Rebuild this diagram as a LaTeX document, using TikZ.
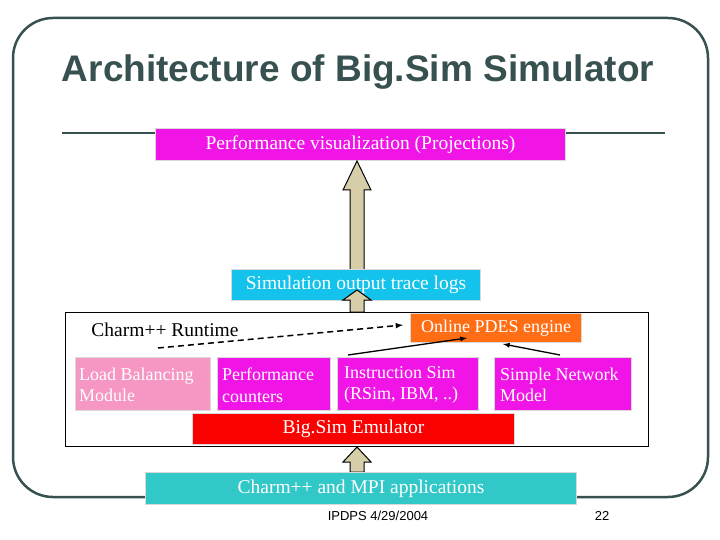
\documentclass[tikz,border=0pt]{standalone}
\usepackage{fontspec}
\setmainfont{Liberation Serif}
\newfontfamily\sansf{Liberation Sans}
\begin{document}
\begin{tikzpicture}[x=1pt,y=-1pt,
  box/.style={draw=black!15,line width=1pt,inner sep=0pt,anchor=north west},
  lbl/.style={text=white,font=\fontsize{19.5}{22}\selectfont},
  two/.style={anchor=west,align=left,inner sep=0pt,text=white,font=\fontsize{18}{21.5}\selectfont},
  fat/.style={draw=black,fill={rgb,255:red,214;green,206;blue,168},line width=1pt}]
\definecolor{frm}{RGB}{55,80,80}
\definecolor{mag}{RGB}{240,20,230}
\useasboundingbox (0,0) rectangle (720,540);
\draw[frm,line width=2.5pt,rounded corners=40] (13,18) rectangle (708,497);
\node[text=frm,font=\sansf\bfseries\fontsize{37}{40}\selectfont] (title) at (358,72) {Architecture of Big.Sim Simulator};
\draw[frm,line width=2.5pt] (62,133) -- (155,133) (565,133) -- (665,133);
\node[box,fill=mag,minimum width=410,minimum height=32] (viz) at (155,128) {};
\node[lbl] at (viz.center) {Performance visualization (Projections)};
\draw[fat] (350,270) -- (350,190) -- (343,190) -- (357,161) -- (371,190) -- (364,190) -- (364,270) -- cycle;
\node[box,fill={rgb,255:red,20;green,195;blue,235},minimum width=249,minimum height=31] (sim) at (231,269) {};
\node[lbl] at (sim.center) {Simulation output trace logs};
\node[draw=black,line width=1pt,minimum width=583,minimum height=134,anchor=north west,inner sep=0pt] (rt) at (65,312) {};
\draw[fat] (350,312) -- (350,300) -- (343,300) -- (357,290) -- (371,300) -- (364,300) -- (364,312) -- cycle;
\node[font=\fontsize{19.5}{22}\selectfont] (rtl) at (165,330) {Charm++ Runtime};
\node[box,fill={rgb,255:red,255;green,110;blue,20},minimum width=171,minimum height=29] (pdes) at (410,313) {};
\node[lbl,font=\fontsize{18}{20}\selectfont] at (pdes.center) {Online PDES engine};
\node[box,fill={rgb,255:red,245;green,150;blue,195},minimum width=135,minimum height=53] (lb) at (75,357) {};
\node[two] at ([xshift=4,yshift=-1]lb.west) {Load Balancing\\Module};
\node[box,fill=mag,minimum width=113,minimum height=53] (pc) at (217,357) {};
\node[two] at ([xshift=5,yshift=-1]pc.west) {Performance\\counters};
\node[box,fill=mag,minimum width=141,minimum height=53] (is) at (337,357) {};
\node[two] at ([xshift=7,yshift=-1]is.west) {Instruction Sim\\(RSim, IBM, ..)};
\node[box,fill=mag,minimum width=137,minimum height=53] (sn) at (494,357) {};
\node[two] at ([xshift=6,yshift=-1]sn.west) {Simple Network\\Model};
\node[box,fill={rgb,255:red,250;green,0;blue,0},minimum width=322,minimum height=31] (emu) at (192,413) {};
\node[lbl] at (emu.center) {Big.Sim Emulator};
\draw[line width=1.5pt,dash pattern=on 6pt off 4pt,-latex] (158,348) -- (403,325);
\draw[line width=1.3pt,-latex] (348,355) -- (467,338);
\draw[line width=1.3pt,-latex] (560,355) -- (503,344);
\draw[fat] (350,472) -- (350,462) -- (343,462) -- (357,447) -- (371,462) -- (364,462) -- (364,472) -- cycle;
\node[box,fill={rgb,255:red,50;green,200;blue,200},minimum width=431,minimum height=32] (app) at (145,472) {};
\node[lbl] at (app.center) {Charm++ and MPI applications};
\node[font=\sansf\fontsize{13}{15}\selectfont] (foot) at (378,516) {IPDPS 4/29/2004};
\node[font=\sansf\fontsize{13}{15}\selectfont] (pg) at (602,516) {22};
\end{tikzpicture}
\end{document}
